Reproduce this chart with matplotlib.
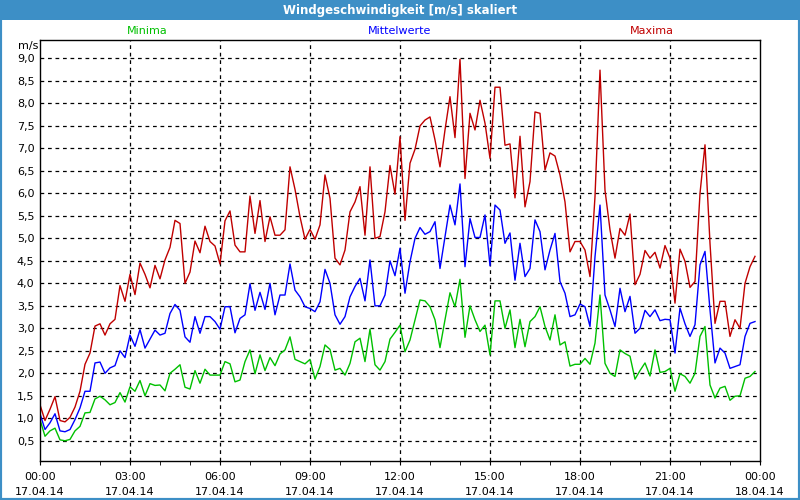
import numpy as np
import pandas as pd
import matplotlib
matplotlib.use("Agg")
import matplotlib.pyplot as plt
import matplotlib.dates as mdates
from matplotlib.patches import Rectangle

# 10-minute values, 17.04.14 00:00 .. 23:50
maxima = [
    1.3, 0.95, 1.2, 1.48, 0.95, 0.92, 1.02, 1.25, 1.6, 2.2, 2.45, 3.05, 3.1, 2.85, 3.1, 3.2,
    3.95, 3.6, 4.2, 3.75, 4.45, 4.2, 3.9, 4.4, 4.1, 4.52, 4.8, 5.4, 5.33, 4.0, 4.25, 4.94,
    4.68, 5.27, 4.93, 4.83, 4.43, 5.39, 5.61, 4.85, 4.7, 4.7, 5.94, 5.11, 5.84, 4.93, 5.48, 5.07,
    5.07, 5.19, 6.59, 6.09, 5.48, 4.98, 5.2, 4.98, 5.3, 6.41, 5.89, 4.56, 4.41, 4.74, 5.59, 5.81,
    6.15, 5.07, 6.59, 5.0, 5.04, 5.59, 6.62, 5.98, 7.26, 5.4, 6.67, 6.98, 7.5, 7.63, 7.7, 7.19,
    6.59, 7.41, 8.15, 7.24, 8.98, 6.33, 7.78, 7.41, 8.07, 7.56, 6.78, 8.36, 8.36, 7.07, 7.1, 5.9,
    7.27, 5.7, 6.26, 7.81, 7.78, 6.52, 6.9, 6.83, 6.41, 5.81, 4.7, 4.93, 4.93, 4.74, 4.15, 5.93,
    8.74, 6.07, 5.19, 4.56, 5.22, 5.07, 5.54, 3.97, 4.2, 4.73, 4.56, 4.69, 4.34, 4.84, 4.56, 3.56,
    4.76, 4.49, 3.91, 4.04, 6.0, 7.08, 4.89, 3.11, 3.6, 3.6, 2.82, 3.19, 3.0, 4.0, 4.37, 4.6,
]
mittelwerte = [
    1.1, 0.75, 0.9, 1.1, 0.72, 0.7, 0.75, 0.97, 1.23, 1.6, 1.6, 2.23, 2.25, 2.0, 2.12, 2.17,
    2.5, 2.35, 2.85, 2.6, 2.97, 2.56, 2.76, 2.96, 2.85, 2.89, 3.33, 3.53, 3.4, 2.81, 2.69, 3.26,
    2.89, 3.26, 3.26, 3.15, 2.98, 3.48, 3.48, 2.9, 3.22, 3.3, 3.99, 3.4, 3.8, 3.42, 4.0, 3.3,
    3.74, 3.74, 4.43, 3.85, 3.7, 3.48, 3.44, 3.37, 3.59, 4.31, 4.0, 3.3, 3.09, 3.26, 3.7, 3.93,
    4.11, 3.61, 4.52, 3.5, 3.5, 3.74, 4.5, 4.17, 4.78, 3.78, 4.48, 5.0, 5.24, 5.09, 5.15, 5.37,
    4.33, 5.04, 5.74, 5.3, 6.21, 4.37, 5.44, 5.02, 5.02, 5.52, 4.39, 5.74, 5.63, 4.89, 5.12, 4.07,
    4.89, 4.15, 4.33, 5.41, 5.15, 4.3, 4.74, 5.11, 4.04, 3.78, 3.26, 3.3, 3.54, 3.48, 3.04, 4.59,
    5.74, 3.74, 3.41, 3.04, 3.89, 3.37, 3.71, 2.89, 3.0, 3.4, 3.26, 3.41, 3.17, 3.2, 3.19, 2.45,
    3.45, 3.1, 2.82, 3.08, 4.41, 4.71, 3.41, 2.23, 2.56, 2.45, 2.11, 2.15, 2.19, 2.82, 3.11, 3.15,
]
minima = [
    0.97, 0.6, 0.72, 0.78, 0.52, 0.5, 0.53, 0.72, 0.82, 1.12, 1.13, 1.43, 1.49, 1.41, 1.3, 1.35,
    1.57, 1.36, 1.7, 1.6, 1.84, 1.5, 1.77, 1.73, 1.74, 1.61, 2.0, 2.09, 2.19, 1.69, 1.65, 2.06,
    1.78, 2.09, 1.96, 1.96, 1.96, 2.26, 2.21, 1.81, 1.85, 2.26, 2.52, 1.99, 2.41, 2.06, 2.35, 2.17,
    2.43, 2.52, 2.81, 2.31, 2.26, 2.21, 2.31, 1.87, 2.15, 2.63, 2.53, 2.07, 2.11, 1.96, 2.22, 2.7,
    2.78, 2.26, 2.98, 2.19, 2.07, 2.26, 2.76, 2.91, 3.07, 2.48, 2.74, 3.19, 3.63, 3.61, 3.48, 3.19,
    2.57, 3.19, 3.79, 3.48, 4.09, 2.8, 3.5, 3.19, 2.93, 3.07, 2.41, 3.61, 3.61, 3.0, 3.41, 2.57,
    3.2, 2.59, 3.15, 3.26, 3.48, 3.04, 2.74, 3.3, 2.63, 2.7, 2.16, 2.2, 2.2, 2.33, 2.2, 2.67,
    3.74, 2.22, 2.0, 1.93, 2.52, 2.44, 2.38, 1.87, 2.06, 2.23, 1.94, 2.52, 2.02, 2.04, 2.11, 1.6,
    1.99, 1.93, 1.78, 2.0, 2.82, 3.04, 1.74, 1.45, 1.67, 1.71, 1.4, 1.49, 1.5, 1.89, 1.93, 2.04,
]
times = pd.date_range("2014-04-17 00:00", periods=len(maxima), freq="10min")

yticks = np.arange(0.5, 9.01, 0.5)
ytick_labels = [f"{v:.1f}".replace(".", ",") for v in yticks]

RED, BLUE, GREEN = "#c00000", "#0000ff", "#00c000"
BAR = "#3d8fc6"

fig = plt.figure(figsize=(8, 5), dpi=100)
fig.patch.set_facecolor("white")

# window frame and title bar
fig.patches.append(Rectangle((0, 0), 1, 1, transform=fig.transFigure, fill=False,
                             edgecolor=BAR, lw=3))
fig.patches.append(Rectangle((0, 0.96), 1, 0.04, transform=fig.transFigure,
                             facecolor=BAR, edgecolor="none"))
fig.text(0.5, 0.979, "Windgeschwindigkeit [m/s] skaliert", ha="center", va="center",
         color="white", fontsize=8.5, fontweight="bold")

fig.text(147 / 800, 1 - 31 / 500, "Minima", color=GREEN, ha="center", va="center", fontsize=8)
fig.text(400 / 800, 1 - 31 / 500, "Mittelwerte", color=BLUE, ha="center", va="center", fontsize=8)
fig.text(652 / 800, 1 - 31 / 500, "Maxima", color=RED, ha="center", va="center", fontsize=8)
fig.text(28 / 800, 1 - 46 / 500, "m/s", ha="center", va="center", fontsize=8)

ax = fig.add_axes([40 / 800, 39 / 500, 720 / 800, 421 / 500])
ax.plot(times, maxima, color=RED, lw=1)
ax.plot(times, mittelwerte, color=BLUE, lw=1)
ax.plot(times, minima, color=GREEN, lw=1)

start = pd.Timestamp("2014-04-17 00:00")
end = pd.Timestamp("2014-04-18 00:00")
ax.set_xlim(start, end)
ax.set_ylim(0.05, 9.41)

ax.set_yticks(yticks)
ax.set_yticklabels(ytick_labels, fontsize=8)
ax.tick_params(axis="y", length=0, pad=4)

ax.xaxis.set_major_locator(mdates.HourLocator(byhour=range(0, 24, 3)))
ax.xaxis.set_minor_locator(mdates.HourLocator())
ax.xaxis.set_major_formatter(mdates.DateFormatter("%H:%M\n%d.%m.%y"))
ax.tick_params(axis="x", which="both", length=3, direction="out", labelsize=8, pad=5)
for lbl in ax.get_xticklabels():
    lbl.set_linespacing(1.6)

for v in yticks:
    ax.axhline(v, color="black", lw=0.9, ls=(0, (3, 3)), zorder=0)
for h in range(3, 24, 3):
    ax.axvline(start + pd.Timedelta(hours=h), color="black", lw=0.9, ls=(0, (3, 3)), zorder=0)

for s in ax.spines.values():
    s.set_color("black")
    s.set_linewidth(1)

fig.savefig("out.png", dpi=100)
